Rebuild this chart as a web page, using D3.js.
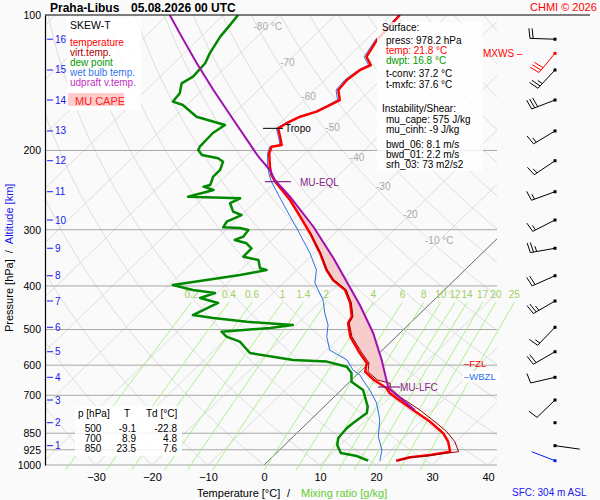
<!DOCTYPE html>
<html>
<head>
<meta charset="utf-8">
<script src="https://cdn.jsdelivr.net/npm/d3@7"></script>
<style>
body{margin:0;background:#fafafa;}
svg{display:block;font-family:"Liberation Sans",Arial,sans-serif;}
</style>
</head>
<body>
<div class="canva"></div>
<script>
// ---- sounding data (p hPa, T degC) ----
const tempP = [100,113.6,123.8,129.2,132.5,139.5,146.8,154.5,159.8,164.0,168.3,174.0,178.6,186.4,194.5,196.2,202.9,217.4,226.8,234.6,257.7,280.7,305.5,338.6,368.7,388.1,408.4,436.5,468.2,483.6,518.6,563.8,593.4,620.4,647.3,674.5,691.8,710.9,754.6,801.3,850.4,887.7,934.2,950.1,961.3,978.2];
const tempT = [-58.5,-58.0,-56.8,-54.5,-55.5,-56.0,-55.7,-53.6,-54.7,-55.6,-57.6,-58.8,-59.4,-57.5,-55.7,-57.2,-56.4,-53.8,-52.0,-50.1,-44.1,-39.2,-34.4,-28.9,-24.7,-21.7,-17.7,-14.4,-11.6,-11.1,-8.2,-3.5,-0.4,0.9,4.0,7.7,9.2,11.4,16.5,21.7,26.2,28.6,30.8,27.8,24.7,22.8];

const virtP = [305.5,338.6,368.7,388.1,408.4,436.5,468.2,483.6,518.6,563.8,593.4,620.4,647.3,658.2,674.5,706,754.6,807.8,843.3,887.7,934.2,942,955,962,978.2];
const virtT = [-34.3,-28.8,-24.6,-21.6,-17.5,-14.2,-11.4,-10.9,-7.9,-3.1,0.0,1.4,4.6,7.5,8.4,11.8,17.7,23.2,26.5,29.8,32.3,30.2,27.5,24.3,23.1];

const dewP = [100,105.3,111.7,121.7,128.0,137.1,141.9,149.3,155.8,158.5,168.3,175.6,182.9,196.2,199.5,204.7,208.2,211.8,221.0,228.7,238.7,240.7,244.8,253.4,255.5,262.0,273.6,278.3,288.0,296.4,297.4,300.5,310.9,316.2,321.6,329.9,344.4,350.3,365.5,368.7,378.4,398.1,408.4,414.7,425.5,436.5,464.2,471.3,480.4,488.7,496.1,505.6,518.6,532.1,563.8,584.3,589.2,604.7,624.5,653.0,681.3,742.1,766.4,806.7,827.5,871,902.7,940.3,955,978.2];
const dewT = [-87.4,-87.0,-86.6,-85.4,-84.4,-84.1,-84.9,-83.4,-83.1,-80.7,-76.1,-69.5,-70.2,-70.0,-69.7,-68.1,-64.6,-63.1,-62.1,-62.1,-61.1,-62.0,-59.6,-62.9,-53.3,-54.2,-52.1,-50.0,-51.4,-51.0,-47.9,-46.0,-45.7,-46.6,-43.9,-42.1,-42.0,-38.7,-36.9,-35.4,-39.2,-49.4,-44.9,-40.4,-42.1,-38.0,-40.3,-36.1,-29.4,-20.6,-24.1,-32.1,-30.3,-27.0,-23.1,-14.1,-7.8,-3.3,-1.3,0.3,3.9,7.8,8.8,8.2,8.0,8.3,9.4,11.5,14.9,17.8];

const wetP = [100,113.6,123.8,129.2,132.5,139.5,146.8,154.5,159.8,164.0,168.3,174.0,178.6,186.4,194.5,196.2,202.9,217.4,226.8,234.6,266.7,300.5,338.6,368.7,394,429.9,459.5,488.7,518.6,555.4,584.3,615,631,647.3,681.3,728.1,794.3,865,926.1,978.2];
const wetT = [-58.7,-58.3,-57.2,-54.9,-55.8,-56.4,-56.1,-54.0,-55.0,-55.9,-57.9,-59.1,-59.7,-57.8,-56.0,-57.5,-56.7,-54.2,-52.4,-50.8,-43.8,-37.2,-30.7,-26.5,-24.4,-19.8,-17.1,-14.3,-12.4,-9.4,-4.5,-1.6,0.6,2.0,5.1,8.7,12.4,15.2,18.3,19.9];

const parcelP = [100,111.7,128.0,146.8,171.1,206.5,221.0,232.6,253.4,295.5,347.3,441.1,508.8,584.3,675.3,754.6];
const parcelT = [-99.6,-93.5,-85.9,-78.0,-68.9,-57.7,-53.2,-50.5,-44.7,-35.0,-25.6,-12.3,-4.8,1.7,8.1,16.8];

// levels (hPa)
const tropoP = 178.6, eqlP = 234.6, lfcP = 670.9, fzlP = 600, wbzlP = 640;

// wind (dir deg, speed kt) at altitude levels, last = surface
const windP = [113.2,132.5,154.5,181.0,210.8,247.0,285.5,329.9,379.7,432.1,494.3,560.1,638.5,717.1,805.4,905.8,978.2];
const windDir = [272,223,249,239,236,250,243,260,246,240,224,240,257,226,0,98,291];
const windSpd = [20,25,30,15,15,15,15,25,20,25,15,20,10,10,0,2,2];
const mxwsP = 121.7, mxwsDir = 220, mxwsSpd = 30;

// axis labels
const pressureTicks = [100,200,300,400,500,600,700,850,925,1000];
const isobars = [200,300,400,500,600,700,850,925,1000];
const tempTicks = [-30,-20,-10,0,10,20,30,40];
const altKm = [16,15,14,13,12,11,10,9,8,7,6,5,4,3,2,1];
const altP = [113.2,132.5,154.5,181.0,210.8,247.0,285.5,329.9,379.7,432.1,494.3,560.1,638.5,717.1,805.4,905.8];
const mixRatios = [0.2,0.4,0.6,1,1.4,2,4,6,8,10,12,14,17,20,25];
const isoLabelT = [-80,-70,-60,-50,-40,-30,-20,-10];
const isoLabelP = [106,127,151,177,207,240,277,317];

const tableP = [500,700,850];
const tableT = ["-9.1","8.9","23.5"];
const tableTd = ["-22.8","4.8","7.6"];

// ---- scales ----
const L = 45, R = 497, T0 = 15, B = 465, skew = 1.03;
const y = d3.scaleLog().domain([100,1000]).range([T0,B]);
const xT = d3.scaleLinear().domain([-30,40]).range([96,488]);
const sx = (t,p) => xT(t) + skew*(B - y(p));

const svg = d3.select(".canva").append("svg")
.attr("width",600)
.attr("height",500);

svg.append("rect").attr("width",600).attr("height",500).attr("fill","#fafafa");

svg.append("clipPath").attr("id","plot")
.append("rect").attr("x",L).attr("y",T0).attr("width",R-L).attr("height",B-T0);

const grid = svg.append("g").attr("clip-path","url(#plot)");

// isotherms
d3.range(-150,50,10).forEach(t => {
  grid.append("line")
  .attr("x1",sx(t,1000)).attr("y1",y(1000))
  .attr("x2",sx(t,100)).attr("y2",y(100))
  .attr("stroke","#d6d6d6").attr("stroke-width",0.8);
});

// dry adiabats
const pl = d3.line().x(d => sx(d.t,d.p)).y(d => y(d.p));
d3.range(-40,200,10).forEach(th => {
  const pts = d3.range(100,1001,10).map(p => ({p:p, t:(th+273.15)*Math.pow(p/1000,0.2857)-273.15}));
  grid.append("path").attr("d",pl(pts))
  .attr("fill","none").attr("stroke","#d6d6d6").attr("stroke-width",0.8);
});

// isobars
isobars.forEach(p => {
  svg.append("line").attr("x1",L).attr("x2",R).attr("y1",y(p)).attr("y2",y(p))
  .attr("stroke","#a8a8a8").attr("stroke-width",1);
});

// mixing ratio lines
function tdMix(w,p){
  const e = w*p/(622+w);
  const g = Math.log(e/6.112);
  return 243.5*g/(17.67-g);
}
mixRatios.forEach(w => {
  const pts = d3.range(435,1026,10).map(p => ({p:p, t:tdMix(w,p)}));
  svg.append("path").attr("d",pl(pts))
  .attr("fill","none").attr("stroke","#a6ee7a").attr("stroke-width",0.9);
  svg.append("text").text(w)
  .attr("x",sx(tdMix(w,435),435)).attr("y",y(419)+3.5)
  .attr("text-anchor","middle").attr("font-size",10).attr("fill","#a0d060");
});

// 0 degC isotherm
grid.append("line")
.attr("x1",sx(0,1000)).attr("y1",y(1000))
.attr("x2",sx(0,100)).attr("y2",y(100))
.attr("stroke","#555").attr("stroke-width",0.8);

// isotherm labels
isoLabelT.forEach((t,i) => {
  svg.append("text")
  .text(t + ((i==0||i==isoLabelT.length-1) ? " \u00b0C" : ""))
  .attr("x",sx(t,isoLabelP[i])).attr("y",y(isoLabelP[i])+4)
  .attr("text-anchor","middle").attr("font-size",10).attr("fill","#aaaaaa");
});

const zip = (P,V) => P.map((p,i) => ({p:p, t:V[i]}));
const temp = zip(tempP,tempT), virt = zip(virtP,virtT), dew = zip(dewP,dewT);
const wet = zip(wetP,wetT), parcel = zip(parcelP,parcelT);

const lines = svg.append("g").attr("clip-path","url(#plot)");

// CAPE area between updraft and environment
const env = temp.filter(d => d.p >= eqlP && d.p < 305).concat(virt.filter(d => d.p <= 675.3));
const up = parcel.filter(d => d.p >= 232 && d.p <= 675.3);
lines.append("path").attr("d",pl(up.concat(env.slice().reverse())) + "Z")
.attr("fill","#f7cccc").attr("stroke","none");

lines.append("path").attr("d",pl(wet)).attr("fill","none").attr("stroke","#2a70e8").attr("stroke-width",1);
lines.append("path").attr("d",pl(dew)).attr("fill","none").attr("stroke","#008800").attr("stroke-width",2.5).attr("stroke-linejoin","round");
lines.append("path").attr("d",pl(temp)).attr("fill","none").attr("stroke","#ff0000").attr("stroke-width",2.5).attr("stroke-linejoin","round");
lines.append("path").attr("d",pl(virt)).attr("fill","none").attr("stroke","#990000").attr("stroke-width",1);
lines.append("path").attr("d",pl(parcel)).attr("fill","none").attr("stroke","#a010b0").attr("stroke-width",2);

// tropopause / EQL / LFC markers
svg.append("line").attr("x1",263).attr("x2",283).attr("y1",y(tropoP)).attr("y2",y(tropoP)).attr("stroke","#000");
svg.append("text").text("Tropo").attr("x",285).attr("y",y(tropoP)+4).attr("font-size",10).attr("fill","#000");
svg.append("line").attr("x1",265).attr("x2",291).attr("y1",y(eqlP)).attr("y2",y(eqlP)).attr("stroke","#882288").attr("stroke-width",1.2);
svg.append("text").text("MU-EQL").attr("x",300).attr("y",y(eqlP)+4).attr("font-size",10).attr("fill","#882288");
svg.append("line").attr("x1",378).attr("x2",400).attr("y1",y(lfcP)).attr("y2",y(lfcP)).attr("stroke","#882288").attr("stroke-width",1.2);
svg.append("text").text("MU-LFC").attr("x",400).attr("y",y(lfcP)+4).attr("font-size",10).attr("fill","#882288");

// freezing / wet bulb zero levels
svg.append("text").text("\u2013FZL").attr("x",464).attr("y",y(fzlP)+2).attr("font-size",9.5).attr("fill","#ff0000");
svg.append("rect").attr("x",463).attr("y",y(wbzlP)-7).attr("width",36).attr("height",11).attr("fill","#fff").attr("opacity",0.9);
svg.append("text").text("\u2013WBZL").attr("x",464).attr("y",y(wbzlP)+2.5).attr("font-size",9.5).attr("fill","#2a70e8");

// axes
svg.append("line").attr("x1",L).attr("x2",590).attr("y1",T0).attr("y2",T0).attr("stroke","#000");
const ya = svg.append("g").attr("transform","translate(" + L + ",0)")
.call(d3.axisLeft(y).tickValues(pressureTicks).tickFormat(d3.format("d")).tickSize(0).tickSizeOuter(0).tickPadding(4));
ya.select(".domain").attr("stroke","#000").attr("stroke-width",1.2);
ya.selectAll("text").attr("font-size",10.5).attr("font-family","Liberation Sans,Arial,sans-serif").attr("fill","#000");

const xa = svg.append("g").attr("transform","translate(0," + B + ")")
.call(d3.axisBottom(xT).tickValues(tempTicks).tickSize(0).tickPadding(8));
xa.select(".domain").remove();
xa.selectAll("text").attr("font-size",11).attr("font-family","Liberation Sans,Arial,sans-serif").attr("fill","#000");

// altitude ticks
altKm.forEach((k,i) => {
  svg.append("line").attr("x1",47).attr("x2",53).attr("y1",y(altP[i])).attr("y2",y(altP[i])).attr("stroke","#1818ee");
  svg.append("text").text(k).attr("x",55).attr("y",y(altP[i])+3.5).attr("font-size",10).attr("fill","#1818ee");
});

// axis titles
const yt = svg.append("text").attr("transform","translate(13,332) rotate(-90)").attr("font-size",11);
yt.append("tspan").text("Pressure [hPa]").attr("fill","#000");
yt.append("tspan").text("/").attr("dx",6).attr("fill","#000");
yt.append("tspan").text("Altitude [km]").attr("dx",6).attr("fill","#1818ee");

svg.append("text").text("Temperature [\u00b0C]").attr("x",197).attr("y",497).attr("font-size",11).attr("fill","#000");
svg.append("text").text("/").attr("x",287).attr("y",497).attr("font-size",11).attr("fill","#000");
svg.append("text").text("Mixing ratio [g/kg]").attr("x",301).attr("y",497).attr("font-size",11).attr("fill","#66cc33");
svg.append("text").text("SFC: 304 m ASL").attr("x",512).attr("y",496).attr("font-size",10).attr("fill","#1818ee");

// titles
svg.append("text").text("Praha-Libus").attr("x",50).attr("y",12).attr("font-size",12).attr("font-weight","bold");
svg.append("text").text("05.08.2026 00 UTC").attr("x",131).attr("y",12).attr("font-size",12).attr("font-weight","bold");
svg.append("text").text("CHMI \u00a9 2026").attr("x",530).attr("y",11).attr("font-size",11).attr("fill","#ff0000");

// legend box
svg.append("rect").attr("x",67).attr("y",17).attr("width",74).attr("height",93).attr("fill","#fff").attr("opacity",0.85);
svg.append("text").text("SKEW-T").attr("x",70).attr("y",29).attr("font-size",10.5).attr("fill","#000");
const legNames = ["temperature","virt.temp.","dew point","wet bulb temp.","udpraft v.temp."];
const legColors = ["#ff0000","#aa0000","#009900","#3377ee","#c030c0"];
legNames.forEach((n,i) => {
  svg.append("text").text(n).attr("x",70).attr("y",46 + i*10).attr("font-size",10).attr("fill",legColors[i]);
});
svg.append("rect").attr("x",68).attr("y",93).attr("width",56).attr("height",13).attr("fill","#ffcccc");
svg.append("text").text("MU CAPE").attr("x",75).attr("y",104.5).attr("font-size",11).attr("fill","#ff2020");

// info box
svg.append("rect").attr("x",377).attr("y",22).attr("width",106).attr("height",149).attr("fill","#fff").attr("opacity",0.8);
const info = [
  ["Surface:",382,31,"#000"],
  ["press: 978.2 hPa",386,43.5,"#000"],
  ["temp: 21.8 \u00b0C",386,53.5,"#ff0000"],
  ["dwpt: 16.8 \u00b0C",386,63.5,"#009900"],
  ["t-conv: 37.2 \u00b0C",386,77,"#000"],
  ["t-mxfc: 37.6 \u00b0C",386,88,"#000"],
  ["Instability/Shear:",382,112,"#000"],
  ["mu_cape: 575 J/kg",386,123,"#000"],
  ["mu_cinh: -9 J/kg",386,133,"#000"],
  ["bwd_06: 8.1 m/s",386,148,"#000"],
  ["bwd_01: 2.2 m/s",386,158,"#000"],
  ["srh_03: 73 m2/s2",386,168,"#000"]
];
info.forEach(d => {
  svg.append("text").text(d[0]).attr("x",d[1]).attr("y",d[2]).attr("font-size",10).attr("fill",d[3]);
});

// table
svg.append("rect").attr("x",75).attr("y",406).attr("width",107).attr("height",50).attr("fill","#fff").attr("opacity",0.85);
svg.append("text").text("p [hPa]").attr("x",78).attr("y",417).attr("font-size",10);
svg.append("text").text("T").attr("x",127).attr("y",417).attr("font-size",10).attr("text-anchor","middle");
svg.append("text").text("Td [\u00b0C]").attr("x",146).attr("y",417).attr("font-size",10);
tableP.forEach((p,i) => {
  svg.append("text").text(p).attr("x",93).attr("y",432 + i*10).attr("font-size",10).attr("text-anchor","middle");
  svg.append("text").text(tableT[i]).attr("x",136).attr("y",432 + i*10).attr("font-size",10).attr("text-anchor","end");
  svg.append("text").text(tableTd[i]).attr("x",177).attr("y",432 + i*10).attr("font-size",10).attr("text-anchor","end");
});

// wind barbs
function barb(p,dir,spd,color){
  const x0 = 555, y0 = y(p);
  svg.append("rect").attr("x",x0-1.5).attr("y",y0-1.5).attr("width",3).attr("height",3).attr("fill",color);
  if (spd < 1) return;
  const a = dir*Math.PI/180, len = 25;
  const ux = Math.sin(a), uy = -Math.cos(a);
  const vx = Math.cos(a), vy = Math.sin(a);
  const ex = x0 + len*ux, ey = y0 + len*uy;
  svg.append("line").attr("x1",x0).attr("y1",y0).attr("x2",ex).attr("y2",ey).attr("stroke",color).attr("stroke-width",1);
  let n = Math.floor(spd/10), half = (spd % 10) >= 5, d = 0;
  const draw = bl => {
    const bx = ex - d*ux, by = ey - d*uy;
    svg.append("line").attr("x1",bx).attr("y1",by)
    .attr("x2",bx + bl*(vx + 0.15*ux)).attr("y2",by + bl*(vy + 0.15*uy))
    .attr("stroke",color).attr("stroke-width",1);
    d += 3.2;
  };
  for (let i = 0; i < n; i++) draw(10);
  if (half) draw(5.5);
}
windP.forEach((p,i) => {
  barb(p, windDir[i], windSpd[i], i == windP.length-1 ? "#0022ee" : "#000");
});
barb(mxwsP, mxwsDir, mxwsSpd, "#ff0000");
svg.append("text").text("MXWS \u2013").attr("x",483).attr("y",y(mxwsP)+4).attr("font-size",10).attr("fill","#ff0000");
</script>
</body>
</html>
